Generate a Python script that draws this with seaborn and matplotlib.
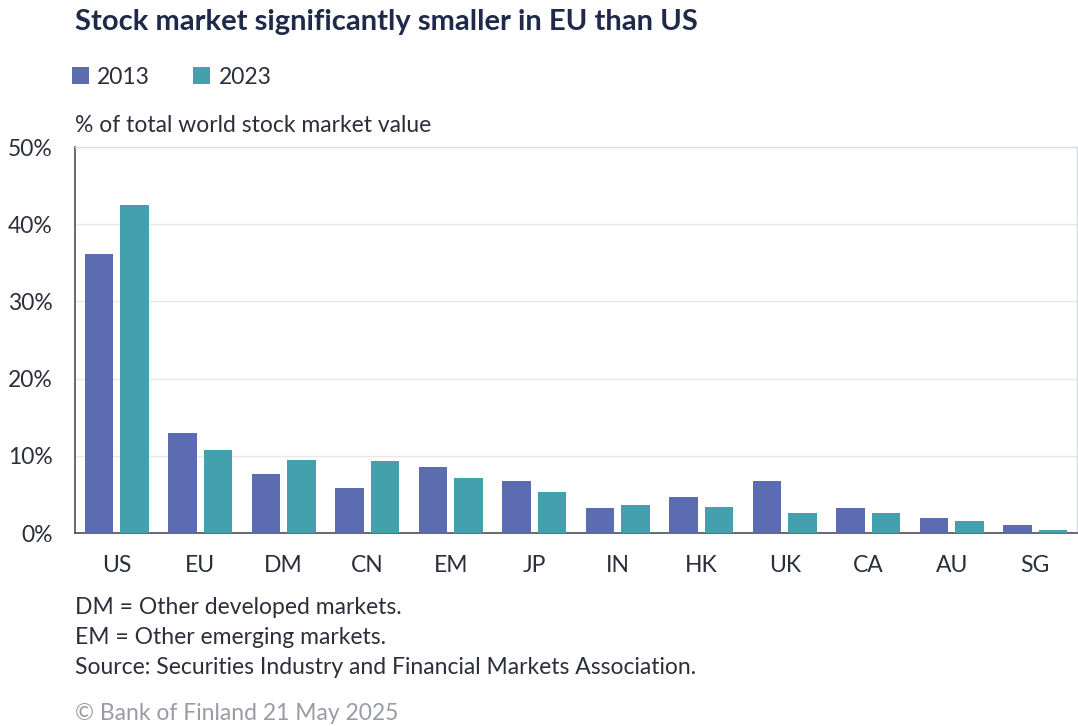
import numpy as np
import pandas as pd
import matplotlib.pyplot as plt
import seaborn as sns
from matplotlib.ticker import FuncFormatter

regions = ['US', 'EU', 'DM', 'CN', 'EM', 'JP', 'IN', 'HK', 'UK', 'CA', 'AU', 'SG']
share_2013 = [36.1, 12.9, 7.7, 5.8, 8.6, 6.8, 3.2, 4.7, 6.7, 3.2, 2.0, 1.0]
share_2023 = [42.5, 10.8, 9.5, 9.3, 7.1, 5.3, 3.6, 3.4, 2.6, 2.6, 1.5, 0.4]
years = ['2013', '2023']
yticks = [0, 10, 20, 30, 40, 50]

df = pd.DataFrame({
    'region': regions * 2,
    'year': [years[0]] * len(regions) + [years[1]] * len(regions),
    'share': share_2013 + share_2023,
})

sns.set_theme(style='white')
plt.rcParams['font.family'] = ['Lato', 'DejaVu Sans']

text_col = '#2b2f3a'
title_col = '#1f2a4a'
palette = {'2013': '#5b6db0', '2023': '#45a0ad'}

fig = plt.figure(figsize=(10.78, 7.26), dpi=100)
ax = fig.add_axes([75 / 1078, 1 - 533 / 726, 1002 / 1078, 386 / 726])

sns.barplot(data=df, x='region', y='share', hue='year', palette=palette,
            width=0.85, gap=0.2, saturation=1, linewidth=0, ax=ax, zorder=3)

ax.set_ylim(0, 50)
ax.set_xlim(-0.5, len(regions) - 0.5)
ax.set_yticks(yticks)
ax.yaxis.set_major_formatter(FuncFormatter(lambda v, p: f'{v:.0f}%'))
ax.yaxis.grid(True, color='#e6e8ee', linewidth=1, zorder=0)
ax.set_xlabel('')
ax.set_ylabel('')
ax.tick_params(axis='both', length=0, labelsize=16.5, colors=text_col)
ax.tick_params(axis='y', pad=16)
ax.tick_params(axis='x', pad=16)

for side in ['left', 'bottom']:
    ax.spines[side].set_color('#4a4f5c')
    ax.spines[side].set_linewidth(1.2)
for side in ['top', 'right']:
    ax.spines[side].set_color('#d8dbe2')
    ax.spines[side].set_linewidth(1)

sns.move_legend(ax, loc='upper left', bbox_to_anchor=(51 / 1078, 1 - 46 / 726),
                bbox_transform=fig.transFigure, ncol=2, frameon=False, title=None,
                fontsize=16.5, handlelength=0.75, handleheight=0.75, handletextpad=0.35,
                columnspacing=1.9)
for t in ax.get_legend().get_texts():
    t.set_color(text_col)

fig.text(75 / 1078, 1 - 22 / 726, 'Stock market significantly smaller in EU than US',
         fontsize=21, fontweight='bold', color=title_col, va='center')
fig.text(75 / 1078, 1 - 125 / 726, '% of total world stock market value',
         fontsize=16.5, color=text_col, va='center')

notes = ['DM = Other developed markets.',
         'EM = Other emerging markets.',
         'Source: Securities Industry and Financial Markets Association.']
for i, line in enumerate(notes):
    fig.text(75 / 1078, 1 - (607 + 30.5 * i) / 726, line,
             fontsize=16.5, color=text_col, va='center')
fig.text(75 / 1078, 1 - 713 / 726, '© Bank of Finland 21 May 2025',
         fontsize=16.5, color='#9a9ca3', va='center')

fig.savefig('out.png', dpi=100)
